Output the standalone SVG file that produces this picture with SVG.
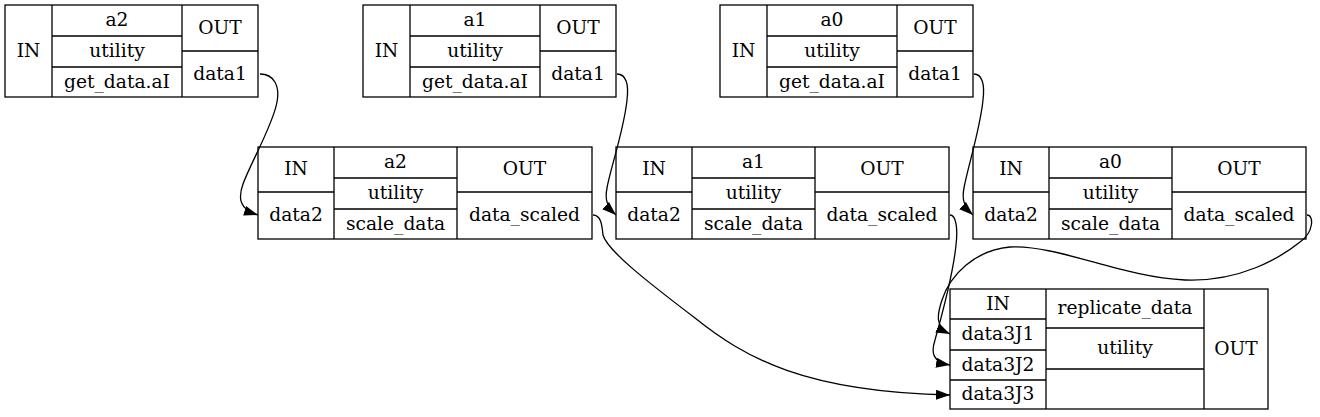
<svg xmlns="http://www.w3.org/2000/svg" width="1320" height="417" viewBox="0 0 1320 417">
<style>
.b{fill:#fff;stroke:#000;stroke-width:1.3}
.l{stroke:#000;stroke-width:1.3;fill:none}
.t{font-family:"DejaVu Serif",serif;font-size:18.67px;text-anchor:middle;fill:#000}
.e{stroke:#000;stroke-width:1.3;fill:none;marker-end:url(#ah)}
</style>
<defs>
<marker id="ah" markerUnits="userSpaceOnUse" markerWidth="15" markerHeight="11" refX="14" refY="5" orient="auto">
<path d="M0,0 L14,5 L0,10 z" fill="#000"/>
</marker>
</defs>
<rect width="1320" height="417" fill="#fff"/>
<g id="get_a2">
<rect class="b" x="5" y="5" width="253" height="92"/>
<path class="l" d="M52,5V97M182,5V97M52,36H182M52,67H182M182,51H258"/>
<text class="t" x="28.5" y="56.6">IN</text>
<text class="t" x="117" y="26">a2</text>
<text class="t" x="117" y="57">utility</text>
<text class="t" x="117" y="87.6">get_data.aI</text>
<text class="t" x="220" y="33.6">OUT</text>
<text class="t" x="220" y="79.6">data1</text>
</g>
<g id="get_a1">
<rect class="b" x="363" y="5" width="253" height="92"/>
<path class="l" d="M410,5V97M540,5V97M410,36H540M410,67H540M540,51H616"/>
<text class="t" x="386.5" y="56.6">IN</text>
<text class="t" x="475" y="26">a1</text>
<text class="t" x="475" y="57">utility</text>
<text class="t" x="475" y="87.6">get_data.aI</text>
<text class="t" x="578" y="33.6">OUT</text>
<text class="t" x="578" y="79.6">data1</text>
</g>
<g id="get_a0">
<rect class="b" x="720" y="5" width="253" height="92"/>
<path class="l" d="M767,5V97M897,5V97M767,36H897M767,67H897M897,51H973"/>
<text class="t" x="743.5" y="56.6">IN</text>
<text class="t" x="832" y="26">a0</text>
<text class="t" x="832" y="57">utility</text>
<text class="t" x="832" y="87.6">get_data.aI</text>
<text class="t" x="935" y="33.6">OUT</text>
<text class="t" x="935" y="79.6">data1</text>
</g>
<g id="scale_a2">
<rect class="b" x="258" y="147" width="334" height="92"/>
<path class="l" d="M334,147V239M457,147V239M258,192H334M334,178H457M334,209H457M457,192H592"/>
<text class="t" x="296" y="175">IN</text>
<text class="t" x="296" y="221">data2</text>
<text class="t" x="395.5" y="168">a2</text>
<text class="t" x="395.5" y="199">utility</text>
<text class="t" x="395.5" y="229.6">scale_data</text>
<text class="t" x="524.5" y="175">OUT</text>
<text class="t" x="524.5" y="221">data_scaled</text>
</g>
<g id="scale_a1">
<rect class="b" x="616" y="147" width="333" height="92"/>
<path class="l" d="M692,147V239M815,147V239M616,192H692M692,178H815M692,209H815M815,192H949"/>
<text class="t" x="654" y="175">IN</text>
<text class="t" x="654" y="221">data2</text>
<text class="t" x="753.5" y="168">a1</text>
<text class="t" x="753.5" y="199">utility</text>
<text class="t" x="753.5" y="229.6">scale_data</text>
<text class="t" x="882" y="175">OUT</text>
<text class="t" x="882" y="221">data_scaled</text>
</g>
<g id="scale_a0">
<rect class="b" x="973" y="147" width="333" height="92"/>
<path class="l" d="M1049,147V239M1172,147V239M973,192H1049M1049,178H1172M1049,209H1172M1172,192H1306"/>
<text class="t" x="1011" y="175">IN</text>
<text class="t" x="1011" y="221">data2</text>
<text class="t" x="1110.5" y="168">a0</text>
<text class="t" x="1110.5" y="199">utility</text>
<text class="t" x="1110.5" y="229.6">scale_data</text>
<text class="t" x="1239" y="175">OUT</text>
<text class="t" x="1239" y="221">data_scaled</text>
</g>
<g id="replicate">
<rect class="b" x="950" y="289" width="318" height="120"/>
<path class="l" d="M1046,289V409M1204,289V409M950,319H1046M950,350H1046M950,380H1046M1046,328H1204M1046,369H1204"/>
<text class="t" x="998" y="309.6">IN</text>
<text class="t" x="998" y="340.1">data3J1</text>
<text class="t" x="998" y="370.6">data3J2</text>
<text class="t" x="998" y="400.1">data3J3</text>
<text class="t" x="1125" y="314.1">replicate_data</text>
<text class="t" x="1125" y="354.1">utility</text>
<text class="t" x="1236" y="354.6">OUT</text>
</g>
<g id="connectors">
<path class="e" d="M260,74 C274,74 280,86 277,102 C273,125 251,162 243,184 C238,198 239,209 258,215"/>
<path class="e" d="M617,74 C626,74 629,84 627,100 C624,130 610,170 607,188 C605,198 606,206 616,215"/>
<path class="e" d="M974,74 C982,74 985,84 983,100 C980,130 967,170 964,188 C962,198 963,206 973,215"/>
<path class="e" d="M593,215 C601,215 602,225 603,235 C607,250 645,280 695,318 C745,358 805,392 950,395"/>
<path class="e" d="M950,215 C956,215 958,228 956,245 C953,275 942,315 935,340 C931,352 932,362 950,365"/>
<path class="e" d="M1307,215 C1314,215 1314,232 1300,242 C1280,258 1240,282 1185,280 C1120,277 1060,245 1010,247 C975,250 950,275 942,300 C937,315 935,327 950,334"/>
</g>
</svg>
